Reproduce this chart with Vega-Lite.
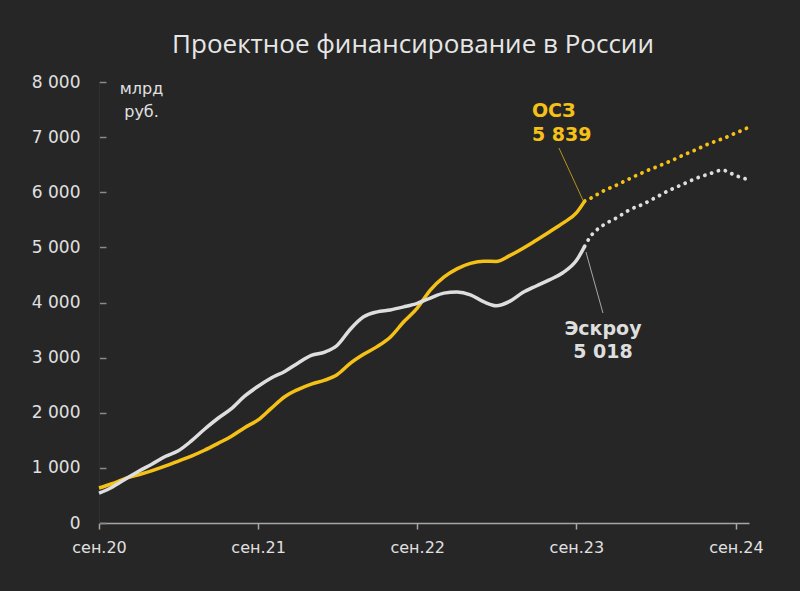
{
  "$schema": "https://vega.github.io/schema/vega-lite/v6.json",
  "width": 650,
  "height": 441,
  "autosize": "none",
  "padding": {"left": 99, "top": 82, "right": 51, "bottom": 68},
  "background": "#262626",
  "title": {
    "text": "Проектное финансирование в России",
    "font": "Open Sans",
    "fontSize": 26,
    "fontWeight": "normal",
    "color": "#E6E6E6",
    "anchor": "middle",
    "frame": "group",
    "dx": -11,
    "offset": 15
  },
  "config": {
    "view": {"stroke": null},
    "axis": {"grid": false, "labelFont": "DejaVu Sans", "labelColor": "#E0E0E0", "titleFont": "DejaVu Sans"}
  },
  "datasets": {
    "fact": [
      {"s": "ОСЗ", "d": "2020-09-01T00:00:00", "v": 635},
      {"s": "ОСЗ", "d": "2020-10-01T00:00:00", "v": 712},
      {"s": "ОСЗ", "d": "2020-11-01T00:00:00", "v": 810},
      {"s": "ОСЗ", "d": "2020-12-01T00:00:00", "v": 875},
      {"s": "ОСЗ", "d": "2021-01-01T00:00:00", "v": 950},
      {"s": "ОСЗ", "d": "2021-02-01T00:00:00", "v": 1035},
      {"s": "ОСЗ", "d": "2021-03-01T00:00:00", "v": 1120},
      {"s": "ОСЗ", "d": "2021-04-01T00:00:00", "v": 1215},
      {"s": "ОСЗ", "d": "2021-05-01T00:00:00", "v": 1320},
      {"s": "ОСЗ", "d": "2021-06-01T00:00:00", "v": 1445},
      {"s": "ОСЗ", "d": "2021-07-01T00:00:00", "v": 1570},
      {"s": "ОСЗ", "d": "2021-08-01T00:00:00", "v": 1730},
      {"s": "ОСЗ", "d": "2021-09-01T00:00:00", "v": 1870},
      {"s": "ОСЗ", "d": "2021-10-01T00:00:00", "v": 2080},
      {"s": "ОСЗ", "d": "2021-11-01T00:00:00", "v": 2290},
      {"s": "ОСЗ", "d": "2021-12-01T00:00:00", "v": 2420},
      {"s": "ОСЗ", "d": "2022-01-01T00:00:00", "v": 2520},
      {"s": "ОСЗ", "d": "2022-02-01T00:00:00", "v": 2590},
      {"s": "ОСЗ", "d": "2022-03-01T00:00:00", "v": 2690},
      {"s": "ОСЗ", "d": "2022-04-01T00:00:00", "v": 2900},
      {"s": "ОСЗ", "d": "2022-05-01T00:00:00", "v": 3060},
      {"s": "ОСЗ", "d": "2022-06-01T00:00:00", "v": 3200},
      {"s": "ОСЗ", "d": "2022-07-01T00:00:00", "v": 3370},
      {"s": "ОСЗ", "d": "2022-08-01T00:00:00", "v": 3650},
      {"s": "ОСЗ", "d": "2022-09-01T00:00:00", "v": 3900},
      {"s": "ОСЗ", "d": "2022-10-01T00:00:00", "v": 4225},
      {"s": "ОСЗ", "d": "2022-11-01T00:00:00", "v": 4460},
      {"s": "ОСЗ", "d": "2022-12-01T00:00:00", "v": 4610},
      {"s": "ОСЗ", "d": "2023-01-01T00:00:00", "v": 4710},
      {"s": "ОСЗ", "d": "2023-02-01T00:00:00", "v": 4750},
      {"s": "ОСЗ", "d": "2023-03-01T00:00:00", "v": 4745},
      {"s": "ОСЗ", "d": "2023-04-01T00:00:00", "v": 4850},
      {"s": "ОСЗ", "d": "2023-05-01T00:00:00", "v": 4980},
      {"s": "ОСЗ", "d": "2023-06-01T00:00:00", "v": 5130},
      {"s": "ОСЗ", "d": "2023-07-01T00:00:00", "v": 5280},
      {"s": "ОСЗ", "d": "2023-08-01T00:00:00", "v": 5440},
      {"s": "ОСЗ", "d": "2023-09-01T00:00:00", "v": 5625},
      {"s": "ОСЗ", "d": "2023-09-20T00:00:00", "v": 5839},
      {"s": "Эскроу", "d": "2020-09-01T00:00:00", "v": 540},
      {"s": "Эскроу", "d": "2020-10-01T00:00:00", "v": 650},
      {"s": "Эскроу", "d": "2020-11-01T00:00:00", "v": 800},
      {"s": "Эскроу", "d": "2020-12-01T00:00:00", "v": 940},
      {"s": "Эскроу", "d": "2021-01-01T00:00:00", "v": 1070},
      {"s": "Эскроу", "d": "2021-02-01T00:00:00", "v": 1210},
      {"s": "Эскроу", "d": "2021-03-01T00:00:00", "v": 1305},
      {"s": "Эскроу", "d": "2021-04-01T00:00:00", "v": 1490},
      {"s": "Эскроу", "d": "2021-05-01T00:00:00", "v": 1700},
      {"s": "Эскроу", "d": "2021-06-01T00:00:00", "v": 1900},
      {"s": "Эскроу", "d": "2021-07-01T00:00:00", "v": 2070},
      {"s": "Эскроу", "d": "2021-08-01T00:00:00", "v": 2300},
      {"s": "Эскроу", "d": "2021-09-01T00:00:00", "v": 2480},
      {"s": "Эскроу", "d": "2021-10-01T00:00:00", "v": 2630},
      {"s": "Эскроу", "d": "2021-11-01T00:00:00", "v": 2750},
      {"s": "Эскроу", "d": "2021-12-01T00:00:00", "v": 2900},
      {"s": "Эскроу", "d": "2022-01-01T00:00:00", "v": 3040},
      {"s": "Эскроу", "d": "2022-02-01T00:00:00", "v": 3100},
      {"s": "Эскроу", "d": "2022-03-01T00:00:00", "v": 3220},
      {"s": "Эскроу", "d": "2022-04-01T00:00:00", "v": 3520},
      {"s": "Эскроу", "d": "2022-05-01T00:00:00", "v": 3740},
      {"s": "Эскроу", "d": "2022-06-01T00:00:00", "v": 3830},
      {"s": "Эскроу", "d": "2022-07-01T00:00:00", "v": 3865},
      {"s": "Эскроу", "d": "2022-08-01T00:00:00", "v": 3920},
      {"s": "Эскроу", "d": "2022-09-01T00:00:00", "v": 3985},
      {"s": "Эскроу", "d": "2022-10-01T00:00:00", "v": 4080},
      {"s": "Эскроу", "d": "2022-11-01T00:00:00", "v": 4170},
      {"s": "Эскроу", "d": "2022-12-01T00:00:00", "v": 4190},
      {"s": "Эскроу", "d": "2023-01-01T00:00:00", "v": 4140},
      {"s": "Эскроу", "d": "2023-02-01T00:00:00", "v": 4010},
      {"s": "Эскроу", "d": "2023-03-01T00:00:00", "v": 3940},
      {"s": "Эскроу", "d": "2023-04-01T00:00:00", "v": 4020},
      {"s": "Эскроу", "d": "2023-05-01T00:00:00", "v": 4180},
      {"s": "Эскроу", "d": "2023-06-01T00:00:00", "v": 4300},
      {"s": "Эскроу", "d": "2023-07-01T00:00:00", "v": 4410},
      {"s": "Эскроу", "d": "2023-08-01T00:00:00", "v": 4540},
      {"s": "Эскроу", "d": "2023-09-01T00:00:00", "v": 4760},
      {"s": "Эскроу", "d": "2023-09-20T00:00:00", "v": 5018}
    ],
    "forecast": [
      {"s": "ОСЗ", "d": "2023-09-20T00:00:00", "v": 5839},
      {"s": "ОСЗ", "d": "2023-10-01T00:00:00", "v": 5880},
      {"s": "ОСЗ", "d": "2023-11-01T00:00:00", "v": 6020},
      {"s": "ОСЗ", "d": "2023-12-01T00:00:00", "v": 6125},
      {"s": "ОСЗ", "d": "2024-01-01T00:00:00", "v": 6245},
      {"s": "ОСЗ", "d": "2024-02-01T00:00:00", "v": 6360},
      {"s": "ОСЗ", "d": "2024-03-01T00:00:00", "v": 6455},
      {"s": "ОСЗ", "d": "2024-04-01T00:00:00", "v": 6555},
      {"s": "ОСЗ", "d": "2024-05-01T00:00:00", "v": 6665},
      {"s": "ОСЗ", "d": "2024-06-01T00:00:00", "v": 6770},
      {"s": "ОСЗ", "d": "2024-07-01T00:00:00", "v": 6880},
      {"s": "ОСЗ", "d": "2024-08-01T00:00:00", "v": 6970},
      {"s": "ОСЗ", "d": "2024-09-01T00:00:00", "v": 7075},
      {"s": "ОСЗ", "d": "2024-10-01T00:00:00", "v": 7180},
      {"s": "Эскроу", "d": "2023-09-20T00:00:00", "v": 5018},
      {"s": "Эскроу", "d": "2023-10-01T00:00:00", "v": 5170},
      {"s": "Эскроу", "d": "2023-11-01T00:00:00", "v": 5400},
      {"s": "Эскроу", "d": "2023-12-01T00:00:00", "v": 5530},
      {"s": "Эскроу", "d": "2024-01-01T00:00:00", "v": 5680},
      {"s": "Эскроу", "d": "2024-02-01T00:00:00", "v": 5785},
      {"s": "Эскроу", "d": "2024-03-01T00:00:00", "v": 5905},
      {"s": "Эскроу", "d": "2024-04-01T00:00:00", "v": 6035},
      {"s": "Эскроу", "d": "2024-05-01T00:00:00", "v": 6140},
      {"s": "Эскроу", "d": "2024-06-01T00:00:00", "v": 6250},
      {"s": "Эскроу", "d": "2024-07-01T00:00:00", "v": 6330},
      {"s": "Эскроу", "d": "2024-08-01T00:00:00", "v": 6400},
      {"s": "Эскроу", "d": "2024-09-01T00:00:00", "v": 6300},
      {"s": "Эскроу", "d": "2024-10-01T00:00:00", "v": 6225}
    ],
    "connectors": [
      {"s": "ОСЗ", "d1": "2023-07-23T00:00:00", "v1": 6803, "d2": "2023-09-16T00:00:00", "v2": 5859},
      {"s": "Эскроу", "d1": "2023-09-23T00:00:00", "v1": 4916, "d2": "2023-11-01T00:00:00", "v2": 3809}
    ],
    "labels": [
      {"s": "ОСЗ", "d": "2023-05-22T00:00:00", "v": 7474, "t": "ОСЗ"},
      {"s": "ОСЗ", "d": "2023-05-22T00:00:00", "v": 7038, "t": "5 839"},
      {"s": "Эскроу", "d": "2023-11-01T00:00:00", "v": 3519, "t": "Эскроу"},
      {"s": "Эскроу", "d": "2023-11-01T00:00:00", "v": 3102, "t": "5 018"}
    ]
  },
  "encoding": {
    "x": {
      "field": "d",
      "type": "temporal",
      "scale": {"domain": [{"year": 2020, "month": 9, "date": 1}, {"year": 2024, "month": 10, "date": 1}]},
      "axis": {
        "title": null,
        "values": [
          {"year": 2020, "month": 9, "date": 1},
          {"year": 2021, "month": 9, "date": 1},
          {"year": 2022, "month": 9, "date": 1},
          {"year": 2023, "month": 9, "date": 1},
          {"year": 2024, "month": 9, "date": 1}
        ],
        "labelExpr": "'сен.' + timeFormat(datum.value, '%y')",
        "labelFontSize": 16,
        "labelPadding": 10,
        "labelFlush": false,
        "labelOverlap": false,
        "domainColor": "#A6A6A6",
        "domainWidth": 1.5,
        "tickColor": "#A6A6A6",
        "tickWidth": 1.5,
        "tickSize": 6
      }
    },
    "y": {
      "field": "v",
      "type": "quantitative",
      "scale": {"domain": [0, 8000], "nice": false},
      "axis": {
        "title": ["млрд", "руб."],
        "titleAngle": 0,
        "titleX": 42,
        "titleY": 6,
        "titleAlign": "center",
        "titleBaseline": "middle",
        "titleFontSize": 16,
        "titleFontWeight": "normal",
        "titleColor": "#E0E0E0",
        "titleLineHeight": 23,
        "values": [0, 1000, 2000, 3000, 4000, 5000, 6000, 7000, 8000],
        "labelExpr": "replace(format(datum.value, ','), ',', ' ')",
        "labelFontSize": 17,
        "labelPadding": 26,
        "domainColor": "#303030",
        "tickColor": "#8A8A8A",
        "tickWidth": 1.5,
        "tickSize": -7
      }
    },
    "color": {
      "field": "s",
      "type": "nominal",
      "scale": {"domain": ["ОСЗ", "Эскроу"], "range": ["#F5C117", "#DEDEDE"]},
      "legend": null
    }
  },
  "layer": [
    {
      "data": {"name": "connectors"},
      "mark": {"type": "rule", "strokeWidth": 1, "opacity": 0.7},
      "encoding": {
        "x": {"field": "d1", "type": "temporal"},
        "y": {"field": "v1", "type": "quantitative"},
        "x2": {"field": "d2"},
        "y2": {"field": "v2"}
      }
    },
    {
      "data": {"name": "forecast"},
      "mark": {"type": "line", "strokeWidth": 3.8, "strokeDash": [0.1, 7], "strokeCap": "round", "interpolate": "monotone"},
      "encoding": {}
    },
    {
      "data": {"name": "fact"},
      "mark": {"type": "line", "strokeWidth": 3.5, "interpolate": "monotone", "strokeJoin": "round"},
      "encoding": {}
    },
    {
      "data": {"name": "labels"},
      "transform": [{"filter": "datum.s == 'ОСЗ'"}],
      "mark": {"type": "text", "align": "left", "baseline": "middle", "font": "DejaVu Sans", "fontSize": 19, "fontWeight": "bold"},
      "encoding": {"text": {"field": "t"}}
    },
    {
      "data": {"name": "labels"},
      "transform": [{"filter": "datum.s == 'Эскроу'"}],
      "mark": {"type": "text", "align": "center", "baseline": "middle", "font": "DejaVu Sans", "fontSize": 19, "fontWeight": "bold"},
      "encoding": {"text": {"field": "t"}}
    }
  ]
}
